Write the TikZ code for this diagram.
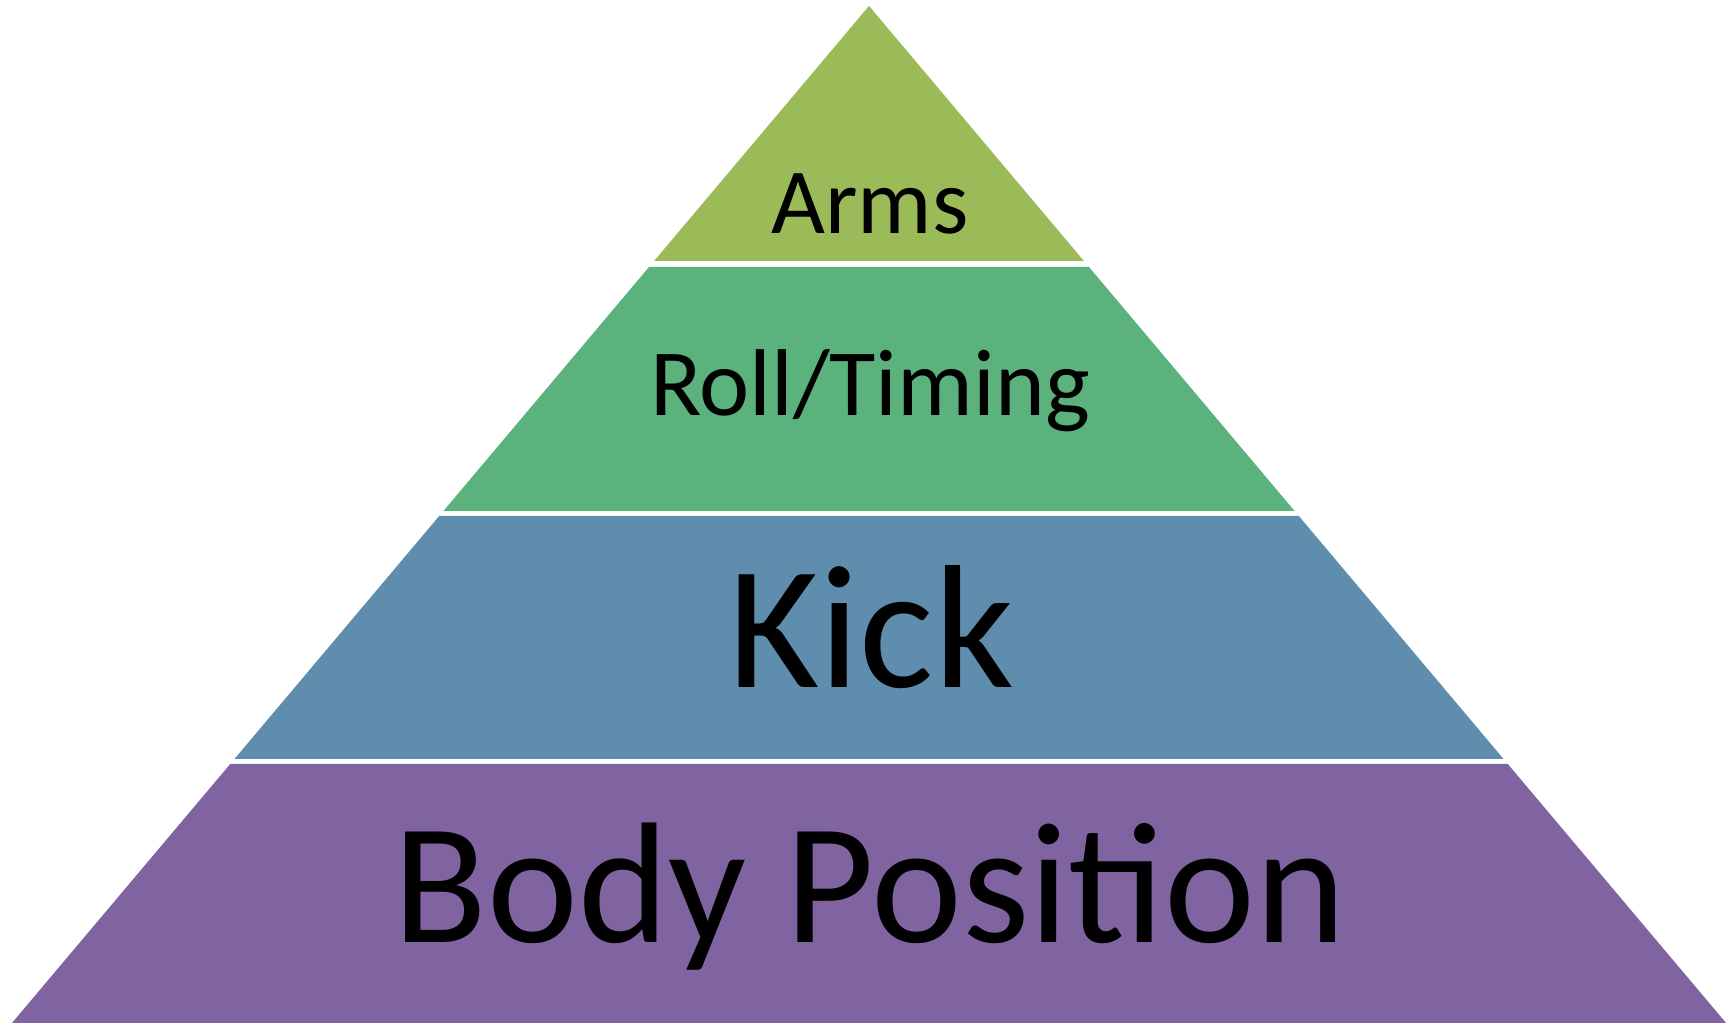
\documentclass[tikz,border=0pt]{standalone}
\usepackage{fontspec}
\setmainfont{Carlito}
\usetikzlibrary{positioning,calc}
\definecolor{lvA}{HTML}{9BBB59}
\definecolor{lvB}{HTML}{5BB27C}
\definecolor{lvC}{HTML}{5F8DAE}
\definecolor{lvD}{HTML}{8064A2}
\newcommand{\pyrslope}{0.8427}

\begin{document}
\begin{tikzpicture}[every node/.style={inner sep=0pt,text=black,anchor=base}]
  \useasboundingbox (0,0) rectangle (17.30,10.23);
  % pyramid layers, top to bottom
  \foreach \ytop/\ybot/\col in {10.17/7.62/lvA, 7.56/5.12/lvB, 5.07/2.64/lvC, 2.59/0/lvD}{
    \pgfmathsetmacro{\wt}{\pyrslope*(10.17-\ytop)}
    \pgfmathsetmacro{\wb}{\pyrslope*(10.17-\ybot)}
    \fill[\col] (8.69-\wb,\ybot) -- (8.69+\wb,\ybot) -- (8.69+\wt,\ytop) -- (8.69-\wt,\ytop) -- cycle;
  }
  % labels
  \node (arms) at (8.70,7.89) {\fontsize{26.5}{30}\selectfont Arms};
  \node (roll) at (8.70,6.07) {\fontsize{27}{31}\selectfont Roll/Timing};
  \node (kick) at (8.71,3.35) {\fontsize{50}{56}\selectfont Kick};
  \node (body) at (8.70,0.80) {\fontsize{49}{55}\selectfont Body Position};
\end{tikzpicture}
\end{document}
